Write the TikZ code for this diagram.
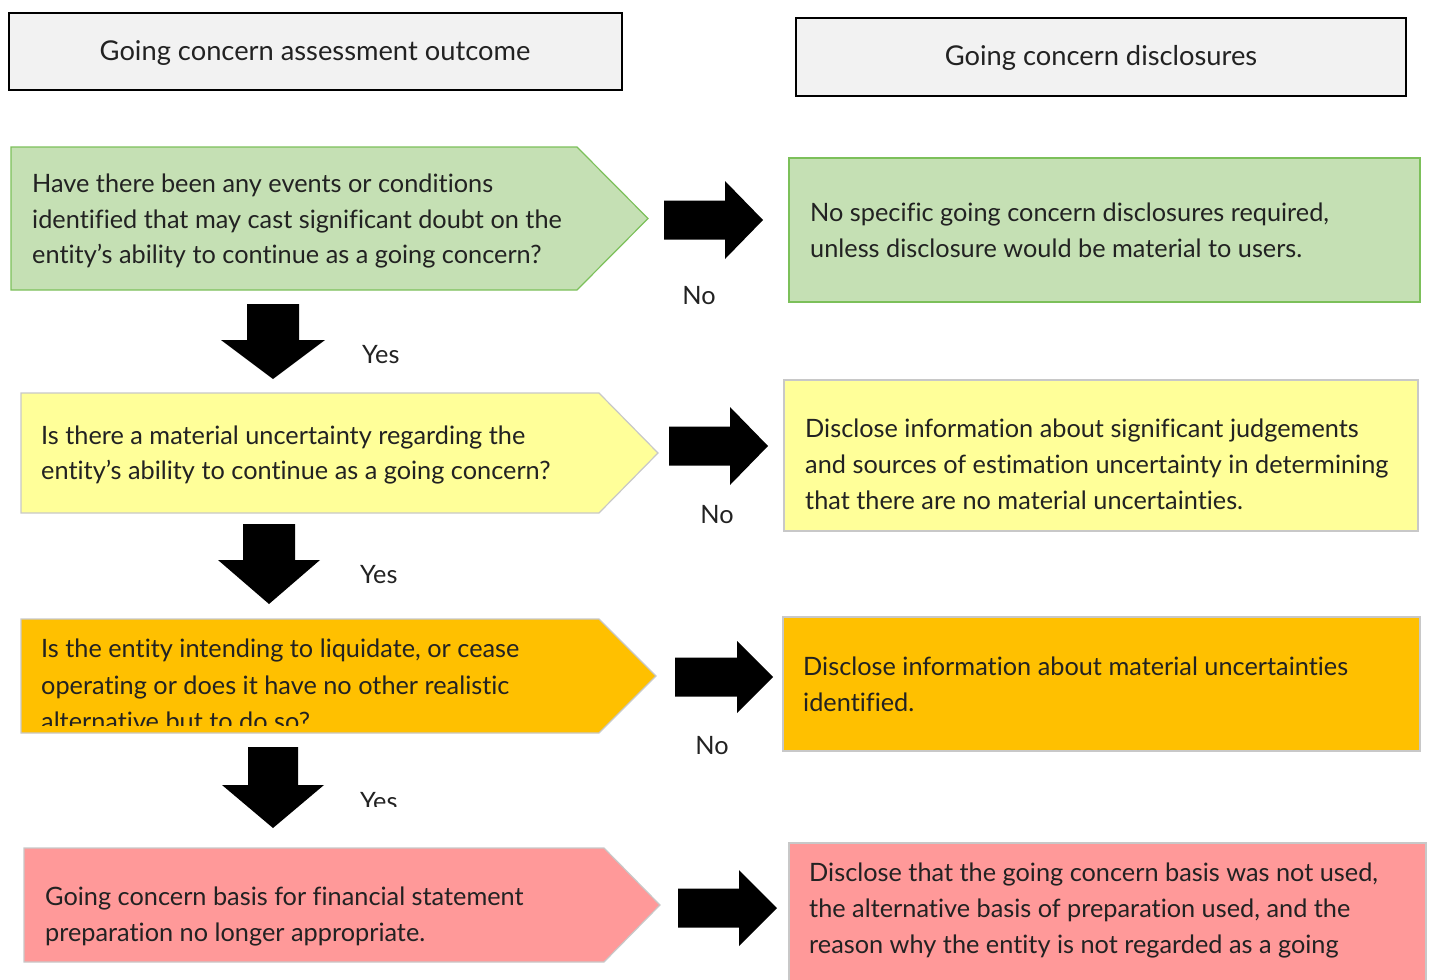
\documentclass[tikz,border=0pt]{standalone}
\usepackage{fontspec}
\setmainfont{Lato}[Ligatures=NoCommon]
\definecolor{txt}{HTML}{222222}
\definecolor{hdrfill}{HTML}{F2F2F2}
\definecolor{gfill}{HTML}{C5E0B4}
\definecolor{gline}{HTML}{7CC05A}
\definecolor{yfill}{HTML}{FFFF99}
\definecolor{ofill}{HTML}{FFC000}
\definecolor{rfill}{HTML}{FF9999}
\definecolor{bline}{HTML}{C8C8C8}
\newcommand\bodyfont{\fontsize{25.3}{30}\selectfont}
\newcommand\hdrfont{\fontsize{27.3}{30}\selectfont}
\tikzset{
  hdr/.style={draw=black, line width=2pt, fill=hdrfill, inner sep=0pt},
  box/.style={line width=1.2pt, inner sep=0pt},
  ln/.style={anchor=base west, inner sep=0pt, text=txt, font=\bodyfont},
  lab/.style={anchor=base, inner sep=0pt, text=txt, font=\bodyfont},
  blk/.style={fill=black, draw=none},
}
\begin{document}
\begin{tikzpicture}[x=1pt,y=-1pt]
\useasboundingbox (0,0) rectangle (1431,979);
% headers
\node[hdr, minimum width=613pt, minimum height=77pt] (h1) at (315.5,51.5) {};
\node[lab, font=\hdrfont] (h1t) at (315,61) {Going concern assessment outcome};
\node[hdr, minimum width=610pt, minimum height=78pt] (h2) at (1101,57) {};
\node[lab, font=\hdrfont] (h2t) at (1101,66) {Going concern disclosures};

% row 1
\filldraw[box, fill=gfill, draw=gline] (11,147) -- (577,147) -- (648,218.5) -- (577,290) -- (11,290) -- cycle;
\node[ln] (g1) at (32,192) {Have there been any events or conditions};
\node[ln] (g2) at (32,228) {identified that may cast significant doubt on the};
\node[ln] (g3) at (32,263) {entity’s ability to continue as a going concern?};
\node[box, fill=gfill, draw=gline, minimum width=631pt, minimum height=144pt] (gr) at (1104.5,230) {};
\node[ln] (gr1) at (810,221) {No specific going concern disclosures required,};
\node[ln] (gr2) at (810,257) {unless disclosure would be material to users.};
\fill[blk] (664,200.5) -- (725,200.5) -- (725,181) -- (763,220) -- (725,259) -- (725,239.5) -- (664,239.5) -- cycle;
\node[lab] (no1) at (699,304) {No};
\fill[blk] (247,304) -- (299,304) -- (299,340) -- (325,340) -- (273,379) -- (221,340) -- (247,340) -- cycle;
\node[ln] (yes1) at (362,363) {Yes};

% row 2
\filldraw[box, fill=yfill, draw=bline] (21,393) -- (599,393) -- (658,453) -- (599,513) -- (21,513) -- cycle;
\node[ln] (y1) at (41,444) {Is there a material uncertainty regarding the};
\node[ln] (y2) at (41,479) {entity’s ability to continue as a going concern?};
\node[box, fill=yfill, draw=bline, minimum width=634pt, minimum height=151pt] (yr) at (1101,455.5) {};
\node[ln] (yr1) at (805,437) {Disclose information about significant judgements};
\node[ln] (yr2) at (805,473) {and sources of estimation uncertainty in determining};
\node[ln] (yr3) at (805,509) {that there are no material uncertainties.};
\fill[blk] (669,426.5) -- (730,426.5) -- (730,407) -- (768,446) -- (730,485) -- (730,465.5) -- (669,465.5) -- cycle;
\node[lab] (no2) at (717,523) {No};
\fill[blk] (243,524) -- (295,524) -- (295,560) -- (320,560) -- (269,604) -- (218,560) -- (243,560) -- cycle;
\node[ln] (yes2) at (360,583) {Yes};

% row 3
\filldraw[box, fill=ofill, draw=bline] (21,619) -- (599,619) -- (656,676) -- (599,733) -- (21,733) -- cycle;
\begin{scope}
\clip (0,600) rectangle (700,725);
\node[ln] (o1) at (41,657) {Is the entity intending to liquidate, or cease};
\node[ln] (o2) at (41,694) {operating or does it have no other realistic};
\node[ln] (o3) at (41,730) {alternative but to do so?};
\end{scope}
\node[box, fill=ofill, draw=bline, minimum width=637pt, minimum height=134pt] (or) at (1101.5,684) {};
\node[ln] (or1) at (803,675) {Disclose information about material uncertainties};
\node[ln] (or2) at (803,711) {identified.};
\fill[blk] (675,657.5) -- (737,657.5) -- (737,641) -- (773,677) -- (737,713) -- (737,696.5) -- (675,696.5) -- cycle;
\node[lab] (no3) at (712,754) {No};
\fill[blk] (248,747) -- (298,747) -- (298,785) -- (324,785) -- (273,828) -- (222,785) -- (248,785) -- cycle;
\begin{scope}
\clip (300,760) rectangle (500,806);
\node[ln] (yes3) at (360,810) {Yes};
\end{scope}

% row 4
\filldraw[box, fill=rfill, draw=bline] (24,848) -- (604,848) -- (660,905) -- (604,962) -- (24,962) -- cycle;
\node[ln] (r1) at (45,905) {Going concern basis for financial statement};
\node[ln] (r2) at (45,941) {preparation no longer appropriate.};
\node[box, fill=rfill, draw=bline, minimum width=637pt, minimum height=150pt] (rr) at (1107.5,918) {};
\node[ln] (rr1) at (809,881) {Disclose that the going concern basis was not used,};
\node[ln] (rr2) at (809,917) {the alternative basis of preparation used, and the};
\node[ln] (rr3) at (809,953) {reason why the entity is not regarded as a going};
\fill[blk] (678,888.5) -- (739,888.5) -- (739,870) -- (777,908) -- (739,946) -- (739,927.5) -- (678,927.5) -- cycle;
\end{tikzpicture}
\end{document}
